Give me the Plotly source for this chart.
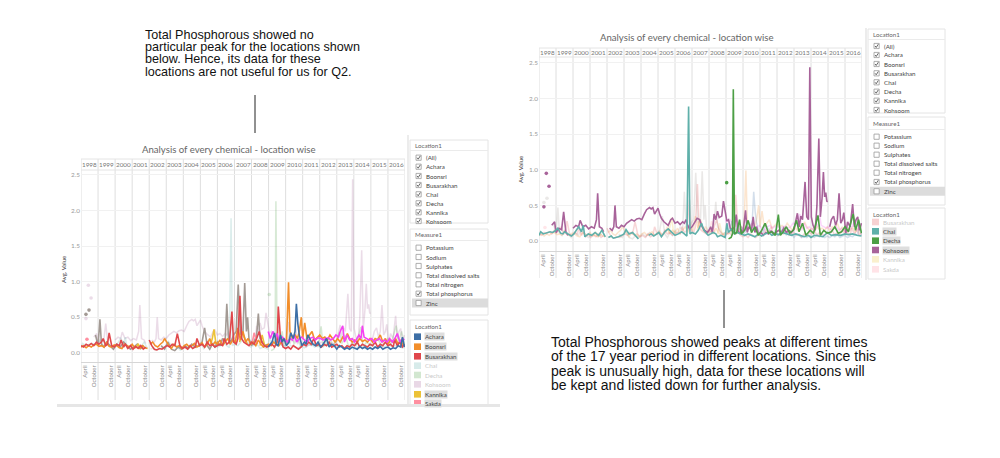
import plotly.graph_objects as go

# page has an 8px body margin: draw in a 984x442 figure, coordinates given in window pixels
OFF = 8
FW, FH = 984, 442
def PX(v): return (v - OFF) / FW
def PY(v): return 1 - (v - OFF) / FH

# ---------------- data ----------------
YEAR_LABELS = [str(y) for y in range(1998, 2017)]
YEAR_BOUNDS = list(range(1998, 2018))
APRIL_YEARS = [1998, 2000, 2003, 2005, 2006, 2008, 2009, 2011, 2013, 2014]
OCTOBER_YEARS = list(range(1998, 2017))
Y_TICKS = [0.0, 0.5, 1.0, 1.5, 2.0, 2.5]

kohsoom = [(1998.75,0.22),(1998.92,0.27),(1999.0,0.12),(1999.17,0.18),(1999.33,0.16),(1999.45,0.41),(1999.58,0.13),(1999.7,0.08),None,
 (2000.0,0.18),(2000.17,0.22),(2000.33,0.2),(2000.42,0.29),(2000.58,0.2),(2000.75,0.22),(2000.92,0.17),(2001.08,0.2),(2001.25,0.18),(2001.38,0.3),(2001.45,0.67),(2001.55,0.2),(2001.7,0.18),(2001.8,0.13),None,
 (2002.15,0.18),(2002.3,0.15),(2002.4,0.2),(2002.47,0.5),(2002.55,0.2),(2002.7,0.18),(2002.85,0.22),(2003.0,0.2),(2003.15,0.25),(2003.3,0.27),(2003.45,0.3),(2003.6,0.28),(2003.75,0.31),(2003.9,0.32),
 (2004.05,0.3),(2004.2,0.38),(2004.33,0.44),(2004.5,0.47),(2004.6,0.45),(2004.7,0.47),(2004.8,0.38),(2004.9,0.42),(2005.0,0.46),(2005.1,0.38),(2005.2,0.32),(2005.35,0.27),(2005.5,0.24),(2005.6,0.22),(2005.75,0.3),(2005.85,0.32),
 (2006.0,0.25),(2006.15,0.27),(2006.3,0.23),(2006.45,0.27),(2006.55,0.25),(2006.65,0.3),(2006.75,0.22),(2006.85,0.17),(2007.0,0.2),(2007.15,0.27),(2007.3,0.32),(2007.45,0.3),(2007.6,0.2),(2007.75,0.15),(2007.9,0.12),
 (2008.0,0.15),(2008.1,0.2),(2008.2,0.12),(2008.3,0.38),(2008.4,0.3),(2008.5,0.42),(2008.6,0.33),(2008.75,0.35),(2008.85,0.56),(2008.95,0.38),(2009.05,0.28),(2009.15,0.3),(2009.25,0.18),(2009.35,0.15),(2009.5,0.2),(2009.6,0.37),(2009.7,0.15),(2009.8,0.1),(2009.9,0.15),
 (2010.0,0.12),(2010.15,0.43),(2010.25,0.12),(2010.35,0.2),(2010.5,0.15),(2010.6,0.34),(2010.7,0.12),(2010.8,0.2),(2010.9,0.1),(2011.05,0.12),(2011.2,0.08),(2011.35,0.12),(2011.5,0.1),(2011.65,0.14),(2011.8,0.1),(2011.95,0.12),
 (2012.1,0.15),(2012.25,0.12),(2012.4,0.18),(2012.55,0.12),(2012.7,0.15),(2012.85,0.12),(2013.0,0.16),(2013.1,0.28),(2013.2,0.39),(2013.3,0.2),(2013.4,0.35),(2013.5,0.3),(2013.65,0.83),(2013.75,0.34),(2013.85,0.3),(2013.93,2.44),
 (2014.02,0.34),(2014.12,0.22),(2014.25,0.15),(2014.35,0.5),(2014.46,1.44),(2014.55,0.34),(2014.65,0.6),(2014.73,0.97),(2014.8,0.62),(2014.87,0.68),(2014.93,0.56),(2014.98,0.55),None,
 (2015.1,0.2),(2015.2,0.3),(2015.33,0.35),(2015.45,0.22),(2015.55,0.3),(2015.65,0.67),(2015.75,0.25),(2015.85,0.3),(2015.93,0.4),(2016.05,0.11),(2016.15,0.27),(2016.3,0.2),(2016.45,0.52),(2016.55,0.2),(2016.65,0.3),(2016.75,0.34),(2016.85,0.15),(2016.97,0.25)]
kohsoom_dots = [(1998.29,0.48),(1998.43,0.95),(1998.59,0.77)]

chai = [(1998.0,0.08),(1998.1,0.13),(1998.25,0.1),(1998.35,0.11),(1998.5,0.12),(1998.65,0.13),(1998.8,0.12),(1998.94,0.14),(1999.1,0.18),(1999.27,0.11),(1999.4,0.1),(1999.5,0.13),(1999.7,0.1),(1999.9,0.07),
 (2000.05,0.1),(2000.2,0.15),(2000.33,0.2),(2000.5,0.13),(2000.6,0.22),(2000.7,0.06),(2000.9,0.1),(2001.1,0.08),(2001.3,0.12),(2001.5,0.08),(2001.7,0.15),(2001.9,0.06),None,
 (2002.08,0.05),(2002.25,0.07),(2002.37,0.04),(2002.55,0.05),(2002.67,0.06),(2002.86,0.08),(2003.0,0.1),(2003.12,0.16),(2003.3,0.1),(2003.5,0.12),(2003.7,0.07),(2003.85,0.03),None,
 (2004.45,0.08),(2004.6,0.1),(2004.75,0.07),(2004.9,0.1),(2005.05,0.12),(2005.2,0.06),(2005.4,0.13),(2005.6,0.17),(2005.8,0.12),(2006.0,0.08),(2006.2,0.1),(2006.4,0.13),(2006.55,0.1),(2006.7,0.07),(2006.8,1.89),(2006.88,0.1),
 (2007.0,0.12),(2007.2,0.1),(2007.37,0.15),(2007.56,0.25),(2007.7,0.15),(2007.95,0.08),(2008.1,0.1),(2008.24,0.12),(2008.4,0.1),(2008.5,0.06),(2008.7,0.08),(2008.95,0.05),(2009.05,0.25),(2009.14,0.12),(2009.33,0.17),(2009.5,0.1),(2009.65,0.12),(2009.9,0.1),
 (2010.1,0.08),(2010.3,0.1),(2010.5,0.08),(2010.7,0.06),(2010.9,0.1),(2011.1,0.07),(2011.3,0.1),(2011.5,0.12),(2011.7,0.08),(2011.9,0.1),(2012.1,0.09),(2012.3,0.12),(2012.6,0.1),(2012.85,0.08),
 (2013.1,0.1),(2013.4,0.07),(2013.6,0.06),(2013.85,0.08),(2014.0,0.05),(2014.2,0.08),(2014.45,0.07),(2014.7,0.06),(2014.97,0.12),(2015.2,0.08),(2015.45,0.09),(2015.75,0.08),(2016.0,0.1),(2016.2,0.09),(2016.45,0.1),(2016.7,0.08),(2016.97,0.07)]

decha = [(2009.15,0.03),(2009.3,0.05),(2009.38,0.1),(2009.43,2.13),(2009.5,0.1),(2009.63,0.12),(2009.8,0.3),(2009.9,0.1),(2010.1,0.15),(2010.3,0.29),(2010.5,0.12),(2010.7,0.2),(2010.9,0.08),
 (2011.1,0.15),(2011.3,0.25),(2011.5,0.11),(2011.7,0.13),(2011.9,0.08),(2012.08,0.37),(2012.2,0.08),(2012.37,0.13),(2012.55,0.2),(2012.75,0.11),(2012.95,0.15),(2013.15,0.29),(2013.3,0.13),(2013.5,0.25),(2013.7,0.08),(2013.95,0.15),
 (2014.15,0.11),(2014.41,0.36),(2014.55,0.08),(2014.75,0.15),(2014.95,0.11),(2015.2,0.13),(2015.4,0.2),(2015.6,0.11),(2015.8,0.13),(2016.0,0.2),(2016.2,0.13),(2016.48,0.38),(2016.62,0.15),(2016.8,0.3),(2016.97,0.11)]
decha_dots = [(2009.04,0.82)]

boonsri = [(1998.0,0.08),(1998.15,0.1),(1998.3,0.07),(1998.45,0.1),(1998.6,0.08),(1998.75,0.11),(1998.9,0.12),(1999.05,0.09),(1999.2,0.1),(1999.35,0.08),(1999.5,0.14),(1999.65,0.09),(1999.8,0.08),(1999.95,0.11),
 (2000.1,0.1),(2000.25,0.07),(2000.4,0.06),(2000.55,0.12),(2000.7,0.1),(2000.85,0.08),(2001.0,0.12),(2001.15,0.07),(2001.3,0.08),(2001.45,0.06),(2001.6,0.1),(2001.75,0.07),(2001.9,0.06),None,
 (2002.05,0.12),(2002.2,0.15),(2002.35,0.1),(2002.5,0.08),(2002.65,0.12),(2002.8,0.15),(2002.9,0.2),(2003.0,0.16),(2003.15,0.1),(2003.3,0.06),(2003.45,0.12),(2003.6,0.08),(2003.75,0.1),(2003.9,0.06),
 (2004.05,0.1),(2004.2,0.12),(2004.35,0.08),(2004.5,0.1),(2004.65,0.13),(2004.8,0.08),(2004.95,0.1),(2005.1,0.14),(2005.25,0.08),(2005.4,0.12),(2005.55,0.2),(2005.7,0.1),(2005.85,0.15),
 (2006.0,0.12),(2006.15,0.18),(2006.3,0.1),(2006.45,0.15),(2006.6,0.2),(2006.75,0.12),(2006.9,0.18),(2007.05,0.15),(2007.2,0.35),(2007.35,0.18),(2007.5,0.3),(2007.65,0.15),(2007.8,0.2),(2007.95,0.12),
 (2008.1,0.15),(2008.25,0.1),(2008.4,0.18),(2008.55,0.12),(2008.7,0.08),(2008.85,0.1),(2009.0,0.12),(2009.15,0.1),(2009.3,0.15),(2009.45,0.12),(2009.6,0.1),(2009.75,0.15),(2009.9,0.2),
 (2010.05,0.15),(2010.17,0.99),(2010.25,0.3),(2010.4,0.2),(2010.55,0.25),(2010.7,0.2),(2010.8,0.3),(2010.92,0.5),(2011.0,0.2),(2011.12,0.42),(2011.25,0.2),(2011.4,0.25),(2011.55,0.3),(2011.7,0.18),(2011.85,0.22),
 (2012.0,0.25),(2012.15,0.2),(2012.3,0.22),(2012.45,0.18),(2012.6,0.25),(2012.75,0.2),(2012.9,0.15),(2013.05,0.2),(2013.2,0.15),(2013.35,0.22),(2013.5,0.18),(2013.62,0.27),(2013.75,0.2),(2013.9,0.15),
 (2014.05,0.18),(2014.2,0.15),(2014.35,0.2),(2014.5,0.16),(2014.65,0.18),(2014.8,0.15),(2014.95,0.2),(2015.1,0.15),(2015.25,0.2),(2015.4,0.18),(2015.55,0.25),(2015.7,0.15),(2015.85,0.2),
 (2016.0,0.12),(2016.15,0.18),(2016.3,0.15),(2016.45,0.2),(2016.6,0.12),(2016.75,0.18),(2016.9,0.1)]

busarakhan = [(1998.0,0.1),(1998.15,0.08),(1998.3,0.12),(1998.45,0.1),(1998.6,0.13),(1998.75,0.1),(1998.9,0.15),(1999.05,0.12),(1999.2,0.15),(1999.3,0.2),(1999.45,0.1),(1999.55,0.12),(1999.65,0.28),(1999.8,0.1),(1999.95,0.08),
 (2000.1,0.12),(2000.25,0.1),(2000.35,0.18),(2000.5,0.08),(2000.6,0.12),(2000.75,0.06),(2000.9,0.1),(2001.05,0.05),(2001.2,0.09),(2001.35,0.06),(2001.5,0.1),(2001.65,0.05),(2001.8,0.08),None,
 (2002.0,0.18),(2002.15,0.1),(2002.3,0.05),(2002.45,0.04),(2002.6,0.06),(2002.75,0.05),(2002.9,0.08),(2003.05,0.1),(2003.2,0.08),(2003.35,0.12),(2003.5,0.1),(2003.65,0.27),(2003.8,0.1),(2003.95,0.06),
 (2004.1,0.08),(2004.25,0.05),(2004.4,0.1),(2004.55,0.06),(2004.7,0.08),(2004.8,0.2),(2004.95,0.1),(2005.1,0.12),(2005.25,0.08),(2005.4,0.15),(2005.55,0.1),(2005.7,0.12),(2005.85,0.08),
 (2006.0,0.1),(2006.15,0.12),(2006.3,0.1),(2006.4,0.2),(2006.55,0.12),(2006.7,0.15),(2006.85,0.58),(2006.95,0.15),(2007.1,0.12),(2007.2,0.2),(2007.32,0.8),(2007.42,0.2),(2007.55,0.15),(2007.7,0.12),(2007.85,0.1),
 (2008.0,0.15),(2008.15,0.12),(2008.3,0.2),(2008.45,0.3),(2008.6,0.15),(2008.75,0.1),(2008.9,0.08),(2009.05,0.1),(2009.2,0.12),(2009.35,0.08),(2009.5,0.15),(2009.57,0.65),(2009.7,0.2),(2009.85,0.08),
 (2010.0,0.06),(2010.15,0.08),(2010.3,0.05),(2010.45,0.1),(2010.6,0.07),(2010.75,0.05),(2010.9,0.08),(2011.05,0.12),(2011.2,0.1),(2011.35,0.15),(2011.5,0.12),(2011.65,0.2),(2011.8,0.1),(2011.95,0.12),
 (2012.1,0.08),(2012.25,0.12),(2012.4,0.1),(2012.55,0.15),(2012.7,0.08),(2012.85,0.1),(2013.0,0.12),(2013.15,0.08),(2013.3,0.1),(2013.45,0.06),(2013.6,0.1),(2013.75,0.08),(2013.9,0.12),
 (2014.05,0.1),(2014.2,0.15),(2014.35,0.08),(2014.5,0.12),(2014.65,0.1),(2014.8,0.08),(2014.95,0.12),(2015.1,0.1),(2015.25,0.15),(2015.4,0.08),(2015.55,0.12),(2015.7,0.1),(2015.85,0.15),
 (2016.0,0.1),(2016.15,0.12),(2016.3,0.08),(2016.4,0.18),(2016.55,0.1),(2016.7,0.15),(2016.85,0.08),(2016.97,0.12)]

achara = [(2008.98,0.08),(2009.1,0.12),(2009.2,0.15),(2009.35,0.28),(2009.45,0.12),(2009.55,0.1),(2009.7,0.25),(2009.8,0.15),(2009.9,0.2),(2010.05,0.1),(2010.2,0.15),(2010.3,0.28),(2010.45,0.2),(2010.55,0.3),(2010.63,0.69),(2010.72,0.4),(2010.8,0.25),(2010.95,0.1),
 (2011.1,0.15),(2011.2,0.12),(2011.3,0.25),(2011.45,0.18),(2011.6,0.12),(2011.75,0.1),(2011.9,0.15),(2012.05,0.08),(2012.2,0.12),(2012.4,0.2),(2012.55,0.08),(2012.7,0.12),(2012.85,0.1),
 (2013.0,0.05),(2013.15,0.1),(2013.3,0.08),(2013.45,0.05),(2013.6,0.07),(2013.75,0.05),(2013.9,0.08),(2014.05,0.06),(2014.2,0.05),(2014.35,0.09),(2014.5,0.06),(2014.65,0.08),(2014.8,0.05),(2014.95,0.07),
 (2015.1,0.05),(2015.25,0.08),(2015.4,0.06),(2015.55,0.09),(2015.7,0.05),(2015.85,0.07),(2016.0,0.08),(2016.15,0.05),(2016.3,0.07),(2016.45,0.06),(2016.6,0.1),(2016.75,0.08),(2016.85,0.22),(2016.97,0.08)]

kannika = [(2001.2,0.08),(2001.35,0.12),(2001.5,0.07),(2001.65,0.1),None,(2005.6,0.12),(2005.7,0.2),(2005.8,0.33),(2005.9,0.15),(2006.05,0.1),None,
 (2007.3,0.15),(2007.45,0.3),(2007.6,0.2),(2007.75,0.12),None,(2008.5,0.1),(2008.62,0.25),(2008.75,0.12),(2008.9,0.08)]

sakda = [(2008.05,0.15),(2008.15,0.28),(2008.25,0.2),(2008.35,0.12)]
sakda_dots = [(1998.35,0.19)]

somchair = [(1998.85,0.25),(1999.0,0.1),(1999.11,0.47),(1999.2,0.12),(1999.35,0.08),(1999.5,0.15),(1999.7,0.1),(1999.9,0.05),(2000.1,0.12),(2000.3,0.08),(2000.5,0.15),(2000.7,0.1),(2000.9,0.05),
 (2001.1,0.08),(2001.3,0.12),(2001.5,0.06),(2001.7,0.1),None,(2002.7,0.1),(2002.9,0.05),(2003.1,0.15),(2003.3,0.05),(2003.5,0.03),(2003.7,0.08),(2003.9,0.05),
 (2004.1,0.1),(2004.3,0.06),(2004.5,0.12),(2004.7,0.08),(2004.9,0.1),(2005.1,0.15),(2005.25,0.35),(2005.4,0.1),(2005.55,0.05),(2005.7,0.12),(2005.85,0.08),
 (2006.0,0.15),(2006.15,0.1),(2006.3,0.2),(2006.45,0.15),(2006.55,0.69),(2006.65,0.2),(2006.8,0.15),(2006.95,0.25),(2007.1,0.3),(2007.22,0.96),(2007.35,0.25),(2007.5,0.3),(2007.6,0.98),(2007.7,0.3),(2007.77,0.5),(2007.85,0.2),
 (2008.0,0.1),(2008.15,0.15),(2008.3,0.25),(2008.4,0.55),(2008.5,0.2),(2008.65,0.15),(2008.8,0.1),(2008.95,0.12)]
somchair_dots = [(1998.29,0.54),(1998.47,0.6)]

tansanee = [(2008.98,0.3),(2009.1,0.2),(2009.25,0.3),(2009.4,0.22),(2009.5,0.27),(2009.65,0.15),(2009.8,0.22),(2009.95,0.18),(2010.1,0.15),(2010.25,0.2),(2010.4,0.18),(2010.5,0.25),(2010.65,0.15),(2010.8,0.2),(2010.95,0.22),
 (2011.1,0.18),(2011.25,0.15),(2011.4,0.2),(2011.6,0.22),(2011.75,0.18),(2011.9,0.21),(2012.05,0.2),(2012.2,0.18),(2012.35,0.2),(2012.5,0.21),(2012.65,0.18),(2012.8,0.2),(2012.95,0.25),
 (2013.1,0.22),(2013.2,0.3),(2013.35,0.38),(2013.45,0.15),(2013.6,0.25),(2013.75,0.18),(2013.9,0.2),(2014.05,0.15),(2014.2,0.2),(2014.3,0.25),(2014.42,0.2),(2014.5,0.38),(2014.6,0.22),(2014.75,0.2),(2014.9,0.18),
 (2015.05,0.2),(2015.2,0.15),(2015.35,0.18),(2015.5,0.2),(2015.65,0.15),(2015.8,0.18),(2015.95,0.15),(2016.1,0.2),(2016.25,0.15),(2016.4,0.2),(2016.55,0.27),(2016.7,0.15),(2016.85,0.2),(2016.97,0.18)]

LOCATION_FILTER = ['(All)', 'Achara', 'Boonsri', 'Busarakhan', 'Chai', 'Decha', 'Kannika', 'Kohsoom']
MEASURES = ['Potassium', 'Sodium', 'Sulphates', 'Total dissolved salts', 'Total nitrogen', 'Total phosphorus', 'Zinc']
LEFT_LEGEND = ['Achara', 'Boonsri', 'Busarakhan', 'Chai', 'Decha', 'Kohsoom', 'Kannika', 'Sakda']
RIGHT_LEGEND = ['Busarakhan', 'Chai', 'Decha', 'Kohsoom', 'Kannika', 'Sakda']
LEFT_HIGHLIGHT = ['Achara', 'Boonsri', 'Busarakhan', 'Kannika', 'Sakda', 'Somchair', 'Tansanee']
RIGHT_HIGHLIGHT = ['Chai', 'Decha', 'Kohsoom']

LEFT_NOTE = ['Total Phosphorous showed no', 'particular peak for the locations shown',
             'below. Hence, its data for these', 'locations are not useful for us for Q2.']
RIGHT_NOTE = ['Total Phosphorous showed peaks at different times',
              'of the 17 year period in different locations. Since this',
              'peak is unusually high, data for these locations will',
              'be kept and listed down for further analysis.']
TITLE = 'Analysis of every chemical - location wise'

SERIES = {'Kohsoom': (kohsoom, kohsoom_dots), 'Chai': (chai, []), 'Decha': (decha, decha_dots),
          'Somchair': (somchair, somchair_dots), 'Kannika': (kannika, []), 'Sakda': (sakda, sakda_dots),
          'Boonsri': (boonsri, []), 'Busarakhan': (busarakhan, []), 'Tansanee': (tansanee, []),
          'Achara': (achara, [])}
COLORS = {'Achara': '#3d6fa6', 'Boonsri': '#f28e2b', 'Busarakhan': '#e0474c', 'Chai': '#5fb0aa',
          'Decha': '#4c9f45', 'Kannika': '#ecc238', 'Kohsoom': '#a8639a', 'Sakda': '#ff8fa0',
          'Somchair': '#a39a94', 'Tansanee': '#f542f2'}

# ---------------- helpers ----------------
def fade(c, a=0.25):
    r, g, b = int(c[1:3], 16), int(c[3:5], 16), int(c[5:7], 16)
    return '#%02x%02x%02x' % tuple(round(255 - (255 - v) * a) for v in (r, g, b))

def xy(pairs):
    xs = [p[0] if p else None for p in pairs]
    ys = [p[1] if p else None for p in pairs]
    return xs, ys

tick_pairs = sorted([(y + 0.25, 'April') for y in APRIL_YEARS] + [(y + 0.75, 'October') for y in OCTOBER_YEARS])
tick_vals = [t[0] for t in tick_pairs]
tick_text = [t[1] for t in tick_pairs]

FONT = 'Lato'
fig = go.Figure()
shapes, anns = [], []

charts = [
    dict(xa='x', ya='y', hl=LEFT_HIGHLIGHT, xd=(81, 405), yd=(170, 362), yr=(-0.13, 2.57),
         head=(159, 170), bottom=400, title=(229, 149), ytitle=(63, 270)),
    dict(xa='x2', ya='y2', hl=RIGHT_HIGHLIGHT, xd=(539, 862), yd=(57, 251), yr=(-0.14, 2.584),
         head=(48, 57), bottom=278, title=(687, 38), ytitle=(520, 170)),
]

for ci, ch in enumerate(charts):
    order = [n for n in SERIES if n not in ch['hl']] + [n for n in SERIES if n in ch['hl']]
    for name in order:
        line_pts, dots = SERIES[name]
        on = name in ch['hl']
        op = 1.0 if on else 0.22
        xs, ys = xy(line_pts)
        fig.add_trace(go.Scatter(x=xs, y=ys, mode='lines', xaxis=ch['xa'], yaxis=ch['ya'],
                                 line=dict(color=COLORS[name], width=1.6 if on else 1.5),
                                 opacity=op, showlegend=False, hoverinfo='skip', connectgaps=False))
        if dots:
            dx, dy = xy(dots)
            fig.add_trace(go.Scatter(x=dx, y=dy, mode='markers', xaxis=ch['xa'], yaxis=ch['ya'],
                                     marker=dict(color=COLORS[name], size=3.6), opacity=op,
                                     showlegend=False, hoverinfo='skip'))
    for yb in YEAR_BOUNDS:
        shapes.append(dict(type='line', xref=ch['xa'], yref='paper', x0=yb, x1=yb,
                           y0=PY(ch['bottom']), y1=PY(ch['head'][0]),
                           line=dict(color='#dedede', width=1), layer='below'))
    for hy in ch['head']:
        shapes.append(dict(type='line', xref='paper', yref='paper', x0=PX(ch['xd'][0]), x1=PX(ch['xd'][1]),
                           y0=PY(hy), y1=PY(hy), line=dict(color='#e4e4e4', width=1), layer='below'))
    for i, lab in enumerate(YEAR_LABELS):
        anns.append(dict(text=lab, xref=ch['xa'], yref='paper', x=1998 + i + 0.5,
                         y=PY((ch['head'][0] + ch['head'][1]) / 2), showarrow=False,
                         font=dict(size=6.3, color='#777', family=FONT), xanchor='center', yanchor='middle'))
    anns.append(dict(text=TITLE, xref='paper', yref='paper', x=PX(ch['title'][0]), y=PY(ch['title'][1]),
                     showarrow=False, font=dict(size=9.6, color='#666', family=FONT), xanchor='center', yanchor='middle'))
    anns.append(dict(text='Avg. Value', xref='paper', yref='paper', x=PX(ch['ytitle'][0]), y=PY(ch['ytitle'][1]),
                     showarrow=False, textangle=-90, font=dict(size=6, color='#333', family=FONT),
                     xanchor='center', yanchor='middle'))
    sfx = '' if ci == 0 else '2'
    fig.update_layout(**{
        'xaxis' + sfx: dict(domain=[PX(ch['xd'][0]), PX(ch['xd'][1])], range=[1998, 2017], anchor='y' + sfx,
                            tickmode='array', tickvals=tick_vals, ticktext=tick_text, tickangle=-90,
                            tickfont=dict(size=6, color='#8c8c8c', family=FONT), showgrid=False,
                            showline=True, linecolor='#d6d6d6', linewidth=1, ticks='', zeroline=False,
                            fixedrange=True),
        'yaxis' + sfx: dict(domain=[PY(ch['yd'][1]), PY(ch['yd'][0])], range=list(ch['yr']), anchor='x' + sfx,
                            tickmode='array', tickvals=Y_TICKS, ticktext=['%.1f' % v for v in Y_TICKS],
                            tickfont=dict(size=6.4, color='#999', family=FONT), showgrid=True,
                            gridcolor='#f1f1f1', zeroline=False, showline=False, ticks='', fixedrange=True),
    })

# ---------------- side panels ----------------
def rect(x0, y0, x1, y1, fill='white', line='#e4e4e4', lw=1):
    shapes.append(dict(type='rect', xref='paper', yref='paper', x0=PX(x0), x1=PX(x1), y0=PY(y1), y1=PY(y0),
                       fillcolor=fill, line=dict(color=line, width=lw), layer='above'))

def hline(x0, x1, y, color='#ebebeb'):
    shapes.append(dict(type='line', xref='paper', yref='paper', x0=PX(x0), x1=PX(x1), y0=PY(y), y1=PY(y),
                       line=dict(color=color, width=1), layer='above'))

def text(t, x, y, size=6.2, color='#444', bg=None):
    d = dict(text=t, xref='paper', yref='paper', x=PX(x), y=PY(y), showarrow=False, xanchor='left',
             yanchor='middle', font=dict(size=size, color=color, family=FONT), borderpad=0)
    if bg:
        d['bgcolor'] = bg
    anns.append(d)

def checkbox(x, y, checked):
    rect(x, y - 2.6, x + 5.2, y + 2.6, fill='white', line='#9a9a9a', lw=0.8)
    if checked:
        shapes.append(dict(type='path', xref='paper', yref='paper', layer='above',
                           path='M %f %f L %f %f L %f %f' % (PX(x + 1.1), PY(y), PX(x + 2.2), PY(y + 1.5),
                                                             PX(x + 4.3), PY(y - 1.8)),
                           line=dict(color='#555', width=0.9)))

def sidebar(xl, xr, loc_box, loc_head, loc_items_y, meas_box, meas_head, meas_items_y,
            leg_box, leg_head, legend_names, leg_items_y, highlight, divider):
    shapes.append(dict(type='line', xref='paper', yref='paper', x0=PX(divider[0]), x1=PX(divider[0]),
                       y0=PY(divider[2]), y1=PY(divider[1]), line=dict(color='#d9d9d9', width=1)))
    rect(xl, loc_box[0], xr, loc_box[1])
    text('Location1', xl + 4, loc_head, color='#666')
    hline(xl, xr, loc_head + 5.5)
    for name, yy in zip(LOCATION_FILTER, loc_items_y):
        checkbox(xl + 6, yy, True)
        text(name, xl + 15, yy)
    rect(xl, meas_box[0], xr, meas_box[1])
    text('Measure1', xl + 4, meas_head, color='#666')
    hline(xl, xr, meas_head + 5.5)
    for name, yy in zip(MEASURES, meas_items_y):
        if name == 'Zinc':
            rect(xl + 2, yy - 4.5, xr, yy + 4.5, fill='#dcdcdc', line='#dcdcdc', lw=0)
        checkbox(xl + 6, yy, name == 'Total phosphorus')
        text(name, xl + 15, yy)
    rect(xl, leg_box[0], xr, leg_box[1])
    text('Location1', xl + 4, leg_head, color='#666')
    for name, yy in zip(legend_names, leg_items_y):
        on = name in highlight
        col = COLORS[name] if on else fade(COLORS[name], 0.25)
        rect(xl + 4, yy - 3.3, xl + 11, yy + 3.3, fill=col, line=col, lw=0)
        text(name, xl + 14, yy, color='#444' if on else '#c9c9c9', bg='#dedede' if on else None)

sidebar(410, 488, (140, 223), 145, [157.7, 166.7, 176, 185, 194.3, 203.3, 212.3, 221],
        (229, 315), 235, [247.7, 257, 266, 275.3, 284.3, 293.7, 303],
        (320, 406), 326.7, LEFT_LEGEND, [336.7, 346.7, 356.3, 365.7, 375, 384.3, 394.3, 403.3],
        LEFT_HIGHLIGHT, (408, 135, 406))
sidebar(868, 945, (29, 113), 34, [46, 55, 64, 73.3, 82.3, 91.7, 100.7, 110],
        (117, 205), 124, [136.7, 145.7, 154.7, 163.7, 172.7, 182, 191.3],
        (208, 279), 214, RIGHT_LEGEND, [222, 231.3, 240.7, 250, 259.3, 269.3],
        RIGHT_HIGHLIGHT, (866, 28, 280))

rect(57, 404, 500, 407, fill='#e6e6e6', line='#e6e6e6', lw=0)

# ---------------- notes and connectors ----------------
for t, yy in zip(LEFT_NOTE, [35, 47.2, 59.4, 71.6]):
    anns.append(dict(text=t, xref='paper', yref='paper', x=PX(143), y=PY(yy), showarrow=False,
                     xanchor='left', yanchor='middle',
                     font=dict(size=12.6, color='#111', family='Liberation Sans, Arial')))
for t, yy in zip(RIGHT_NOTE, [342, 356.3, 370.6, 385]):
    anns.append(dict(text=t, xref='paper', yref='paper', x=PX(549), y=PY(yy), showarrow=False,
                     xanchor='left', yanchor='middle',
                     font=dict(size=14, color='#111', family='Liberation Sans, Arial')))
shapes.append(dict(type='line', xref='paper', yref='paper', x0=PX(255), x1=PX(255), y0=PY(133), y1=PY(95),
                   line=dict(color='#222', width=1)))
shapes.append(dict(type='line', xref='paper', yref='paper', x0=PX(724), x1=PX(724), y0=PY(328), y1=PY(290),
                   line=dict(color='#222', width=1)))

fig.update_layout(width=FW, height=FH, margin=dict(l=0, r=0, t=0, b=0), paper_bgcolor='white',
                  plot_bgcolor='white', shapes=shapes, annotations=anns, showlegend=False)
fig.write_html('out.html', config={'displayModeBar': False})
